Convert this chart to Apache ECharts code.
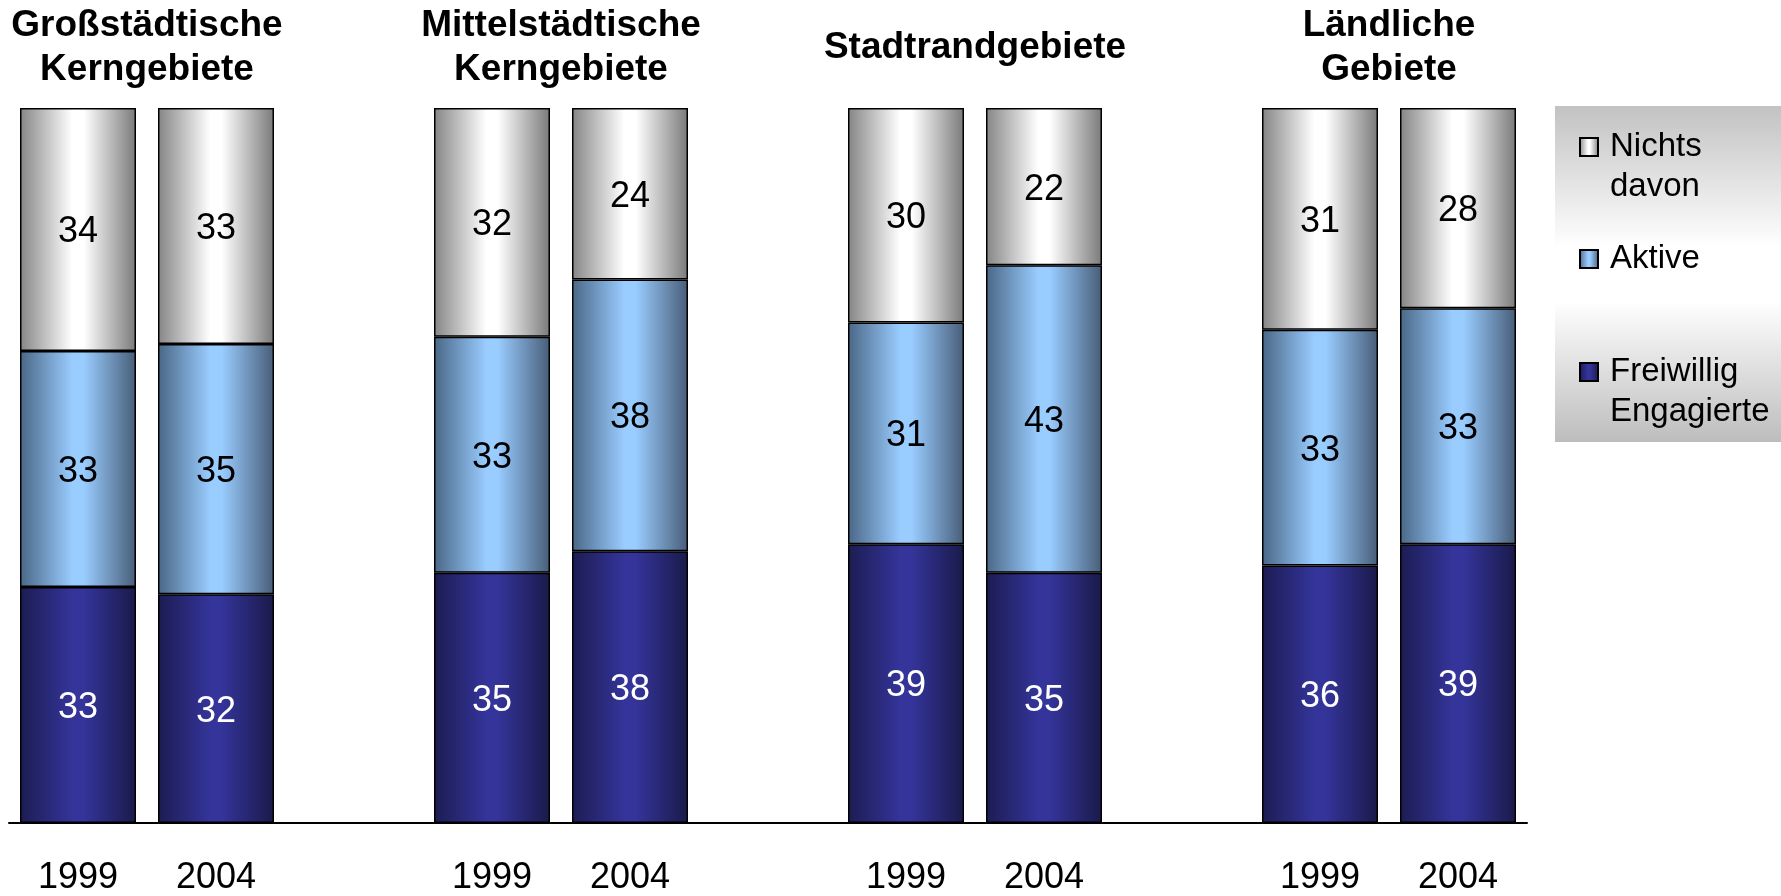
<!DOCTYPE html>
<html>
<head>
<meta charset="utf-8">
<script src="https://cdn.jsdelivr.net/npm/echarts/dist/echarts.min.js"></script>
<style>
  html, body { margin: 0; padding: 0; background: #fff; }
  #chart { width: 1781px; height: 896px; }
</style>
</head>
<body>
<div id="chart"></div>
<script>
// Gebietstypen (Kopfzeile) und Jahre je Gruppe
const groups = ['Großstädtische\nKerngebiete', 'Mittelstädtische\nKerngebiete', 'Stadtrandgebiete', 'Ländliche\nGebiete'];
const years = ['1999', '2004'];
// Werte in %, je Gruppe 1999 / 2004
const freiwillig = [33, 32, 35, 38, 39, 35, 36, 39];
const aktive = [33, 35, 33, 38, 31, 43, 33, 33];
const nichts = [34, 33, 32, 24, 30, 22, 31, 28];

const FONT = '"Liberation Sans", Arial, Helvetica, sans-serif';

// Kategorien mit Leerplatz zwischen den Gruppen
function withGaps(arr, blank) {
  const out = [];
  for (let g = 0; g < groups.length; g++) {
    if (g > 0) out.push(blank);
    out.push(arr[g * 2], arr[g * 2 + 1]);
  }
  return out;
}
const cats = withGaps(groups.flatMap(() => years), '');

function grad(edgeL, mid, edgeR) {
  return new echarts.graphic.LinearGradient(0, 0, 1, 0, [
    { offset: 0, color: edgeL },
    { offset: 0.45, color: mid },
    { offset: 0.55, color: mid },
    { offset: 1, color: edgeR }
  ]);
}

function bar(name, data, color, labelColor) {
  return {
    name: name,
    type: 'bar',
    stack: 'total',
    barWidth: 116,
    data: withGaps(data, '-'),
    itemStyle: { color: color, borderColor: '#000', borderWidth: 1.5 },
    label: {
      show: true,
      position: 'inside',
      offset: [0, 3],
      color: labelColor,
      fontSize: 36,
      fontFamily: FONT
    }
  };
}

// zweizeilige Einträge: Leerzeile davor, damit die erste Zeile neben dem Symbol steht
function legendFor(name, top, twoLines) {
  return {
    data: [name],
    orient: 'vertical',
    left: 1579,
    top: top,
    padding: 0,
    icon: 'rect',
    itemWidth: 18,
    itemHeight: 18,
    selectedMode: false,
    formatter: n => (twoLines ? ' \n' : '') + n,
    textStyle: {
      fontSize: 33,
      lineHeight: 40,
      color: '#000',
      fontFamily: FONT,
      padding: [0, 0, 0, 7]
    }
  };
}

const chart = echarts.init(document.getElementById('chart'));
chart.setOption({
  animation: false,
  backgroundColor: '#fff',
  graphic: [{
    type: 'rect',
    left: 1555,
    top: 106,
    shape: { width: 226, height: 336 },
    style: {
      fill: new echarts.graphic.LinearGradient(0, 0, 0, 1, [
        { offset: 0, color: '#c2c2c2' },
        { offset: 0.42, color: '#ffffff' },
        { offset: 0.58, color: '#ffffff' },
        { offset: 1, color: '#bdbdbd' }
      ])
    },
    z: -1
  }],
  legend: [
    legendFor('Nichts\ndavon', 87, true),
    legendFor('Aktive', 239, false),
    legendFor('Freiwillig\nEngagierte', 312, true)
  ],
  grid: { left: 9, right: 254, top: 108, bottom: 71 },
  xAxis: [{
    type: 'category',
    data: cats,
    axisLine: { lineStyle: { color: '#000', width: 2 } },
    axisTick: { show: false },
    axisLabel: {
      color: '#000',
      fontSize: 36,
      fontFamily: FONT,
      verticalAlign: 'middle',
      margin: 55,
      interval: 0
    }
  }, {
    type: 'value',
    position: 'top',
    min: 0,
    max: cats.length,
    axisLine: { show: false },
    axisTick: { show: false },
    splitLine: { show: false },
    axisLabel: {
      customValues: groups.map((g, i) => i * 3 + 1),
      formatter: v => groups[(v - 1) / 3],
      color: '#000',
      fontSize: 37,
      fontWeight: 'bold',
      fontFamily: FONT,
      lineHeight: 44,
      verticalAlign: 'middle',
      align: 'center',
      margin: 60
    }
  }],
  yAxis: { type: 'value', min: 0, max: 100, show: false },
  series: [
    bar('Freiwillig\nEngagierte', freiwillig, grad('#1c1c52', '#34349a', '#1a1a4a'), '#fff'),
    bar('Aktive', aktive, grad('#4a6786', '#99ccff', '#485d78'), '#000'),
    bar('Nichts\ndavon', nichts, grad('#858585', '#ffffff', '#7a7a7a'), '#000')
  ]
});
</script>
</body>
</html>
